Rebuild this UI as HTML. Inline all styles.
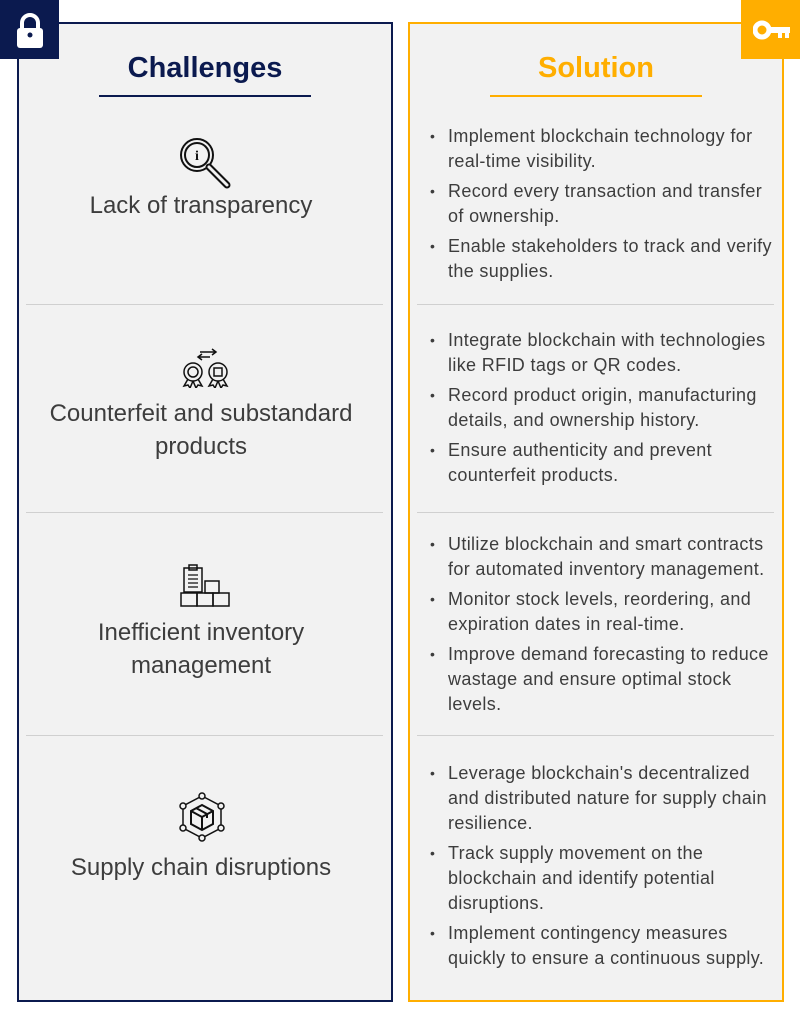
<!DOCTYPE html>
<html><head><meta charset="utf-8"><style>
*{margin:0;padding:0;box-sizing:border-box}
body{width:800px;height:1018px;background:#fff;position:relative;overflow:hidden;font-family:"Liberation Sans","Noto Sans CJK JP",sans-serif;color:#3d3d3d}
.abs{position:absolute}
.panel{position:absolute;top:22px;height:980px;width:376px;background:#f2f2f2}
.h{position:absolute;width:376px;text-align:center;font-weight:bold;font-size:29px;top:52px}
.ul{position:absolute;height:2px;width:212px;top:95px}
.div{position:absolute;height:1px;background:#d0d0d0;width:357px}
.lab{position:absolute;left:13px;width:376px;text-align:center;font-size:24px;line-height:33px;color:#3d3d3d}
.sol{position:absolute;left:430px;width:370px;font-size:18px;letter-spacing:0.35px;line-height:25px;list-style:none;white-space:nowrap}
.sol li{position:relative;padding-left:18px;margin-bottom:5px}
.sol li:before{content:"•";position:absolute;left:0;top:0;font-size:14px}
</style></head><body>
<div class="panel" style="left:17px;border:2px solid #0b1a4f"></div>
<div class="panel" style="left:408px;border:2px solid #ffae00"></div>
<div class="abs" style="left:0;top:0;width:59px;height:59px;background:#0b1a4f"></div>
<svg class="abs" style="left:15px;top:12px" width="30" height="36" viewBox="0 0 30 36"><path d="M7 17V11a8 8 0 0 1 16 0v6" fill="none" stroke="#fff" stroke-width="4"/><rect x="2" y="16" width="26" height="20" rx="3" fill="#fff"/><circle cx="15" cy="23" r="2.5" fill="#0b1a4f"/></svg>
<div class="abs" style="left:741px;top:0;width:59px;height:59px;background:#ffae00"></div>
<svg class="abs" style="left:753px;top:20px" width="38" height="20" viewBox="0 0 38 20"><circle cx="9" cy="10" r="7" fill="none" stroke="#fff" stroke-width="5"/><rect x="14" y="7" width="23" height="6" fill="#fff"/><rect x="25" y="10" width="4" height="8" fill="#fff"/><rect x="32" y="10" width="4" height="8" fill="#fff"/></svg>

<div class="h" style="left:17px;color:#0b1a4f">Challenges</div>
<div class="ul" style="left:99px;background:#0b1a4f"></div>
<div class="h" style="left:408px;color:#ffae00">Solution</div>
<div class="ul" style="left:490px;background:#ffae00"></div>

<div class="div" style="left:26px;top:304px"></div><div class="div" style="left:26px;top:512px"></div><div class="div" style="left:26px;top:735px"></div>
<div class="div" style="left:417px;top:304px"></div><div class="div" style="left:417px;top:512px"></div><div class="div" style="left:417px;top:735px"></div>

<svg class="abs" style="left:178px;top:136px" width="56" height="54" viewBox="0 0 56 54"><circle cx="19" cy="19" r="16" fill="none" stroke="#111" stroke-width="2"/><circle cx="19" cy="19" r="12" fill="none" stroke="#111" stroke-width="2"/><text x="19" y="24" font-size="14" font-weight="bold" text-anchor="middle" fill="#111" font-family="Liberation Serif">i</text><path d="M31 31l18 18" stroke="#111" stroke-width="7" stroke-linecap="round"/><path d="M31 31l18 18" stroke="#f2f2f2" stroke-width="3" stroke-linecap="round"/></svg>
<div class="lab" style="top:189px">Lack of transparency</div>

<svg class="abs" style="left:180px;top:346px" width="52" height="42" viewBox="0 0 52 42"><path d="M20 6h16M32 3l4 3-4 3M30 11H18M22 8l-4 3 4 3" fill="none" stroke="#111" stroke-width="1.5"/><circle cx="13" cy="26" r="9" fill="none" stroke="#111" stroke-width="1.5"/><circle cx="13" cy="26" r="5" fill="none" stroke="#111" stroke-width="1.5"/><path d="M8 33l-4 7 4-1 2 3 3-7M18 33l4 7-4-1-2 3-3-7" fill="none" stroke="#111" stroke-width="1.5"/><circle cx="38" cy="26" r="9" fill="none" stroke="#111" stroke-width="1.5"/><rect x="34" y="22" width="8" height="8" fill="none" stroke="#111" stroke-width="1.5"/><path d="M33 33l-4 7 4-1 2 3 3-7M43 33l4 7-4-1-2 3-3-7" fill="none" stroke="#111" stroke-width="1.5"/></svg>
<div class="lab" style="top:397px">Counterfeit and substandard<br>products</div>

<svg class="abs" style="left:180px;top:564px" width="52" height="46" viewBox="0 0 52 46"><rect x="4" y="4" width="18" height="24" fill="none" stroke="#111" stroke-width="1.5"/><rect x="9" y="1" width="8" height="5" fill="none" stroke="#111" stroke-width="1.5"/><path d="M8 11h10M8 15h10M8 19h10M8 23h10" stroke="#111" stroke-width="1.2"/><rect x="25" y="17" width="14" height="12" fill="none" stroke="#111" stroke-width="1.5"/><rect x="1" y="29" width="16" height="13" fill="none" stroke="#111" stroke-width="1.5"/><rect x="17" y="29" width="16" height="13" fill="none" stroke="#111" stroke-width="1.5"/><rect x="33" y="29" width="16" height="13" fill="none" stroke="#111" stroke-width="1.5"/></svg>
<div class="lab" style="top:616px">Inefficient inventory<br>management</div>

<svg class="abs" style="left:177px;top:792px" width="50" height="50" viewBox="0 0 50 50"><g fill="none" stroke="#111" stroke-width="1.5"><path d="M25 4L44 14V36L25 46L6 36V14Z"/><circle cx="25" cy="4" r="3" fill="#f2f2f2"/><circle cx="44" cy="14" r="3" fill="#f2f2f2"/><circle cx="44" cy="36" r="3" fill="#f2f2f2"/><circle cx="25" cy="46" r="3" fill="#f2f2f2"/><circle cx="6" cy="36" r="3" fill="#f2f2f2"/><circle cx="6" cy="14" r="3" fill="#f2f2f2"/><path d="M25 13L36 19V32L25 38L14 32V19Z" fill="#f2f2f2" stroke-width="2"/><path d="M14 19L25 25L36 19M25 25V38M19 16L30 22V26" stroke-width="2"/></g></svg>
<div class="lab" style="top:851px">Supply chain disruptions</div>

<ul class="sol" style="top:124px"><li>Implement blockchain technology for<br>real-time visibility.</li><li>Record every transaction and transfer<br>of ownership.</li><li>Enable stakeholders to track and verify<br>the supplies.</li></ul>
<ul class="sol" style="top:328px"><li>Integrate blockchain with technologies<br>like RFID tags or QR codes.</li><li>Record product origin, manufacturing<br>details, and ownership history.</li><li>Ensure authenticity and prevent<br>counterfeit products.</li></ul>
<ul class="sol" style="top:532px"><li>Utilize blockchain and smart contracts<br>for automated inventory management.</li><li>Monitor stock levels, reordering, and<br>expiration dates in real-time.</li><li>Improve demand forecasting to reduce<br>wastage and ensure optimal stock<br>levels.</li></ul>
<ul class="sol" style="top:761px"><li>Leverage blockchain's decentralized<br>and distributed nature for supply chain<br>resilience.</li><li>Track supply movement on the<br>blockchain and identify potential<br>disruptions.</li><li>Implement contingency measures<br>quickly to ensure a continuous supply.</li></ul>
</body></html>
